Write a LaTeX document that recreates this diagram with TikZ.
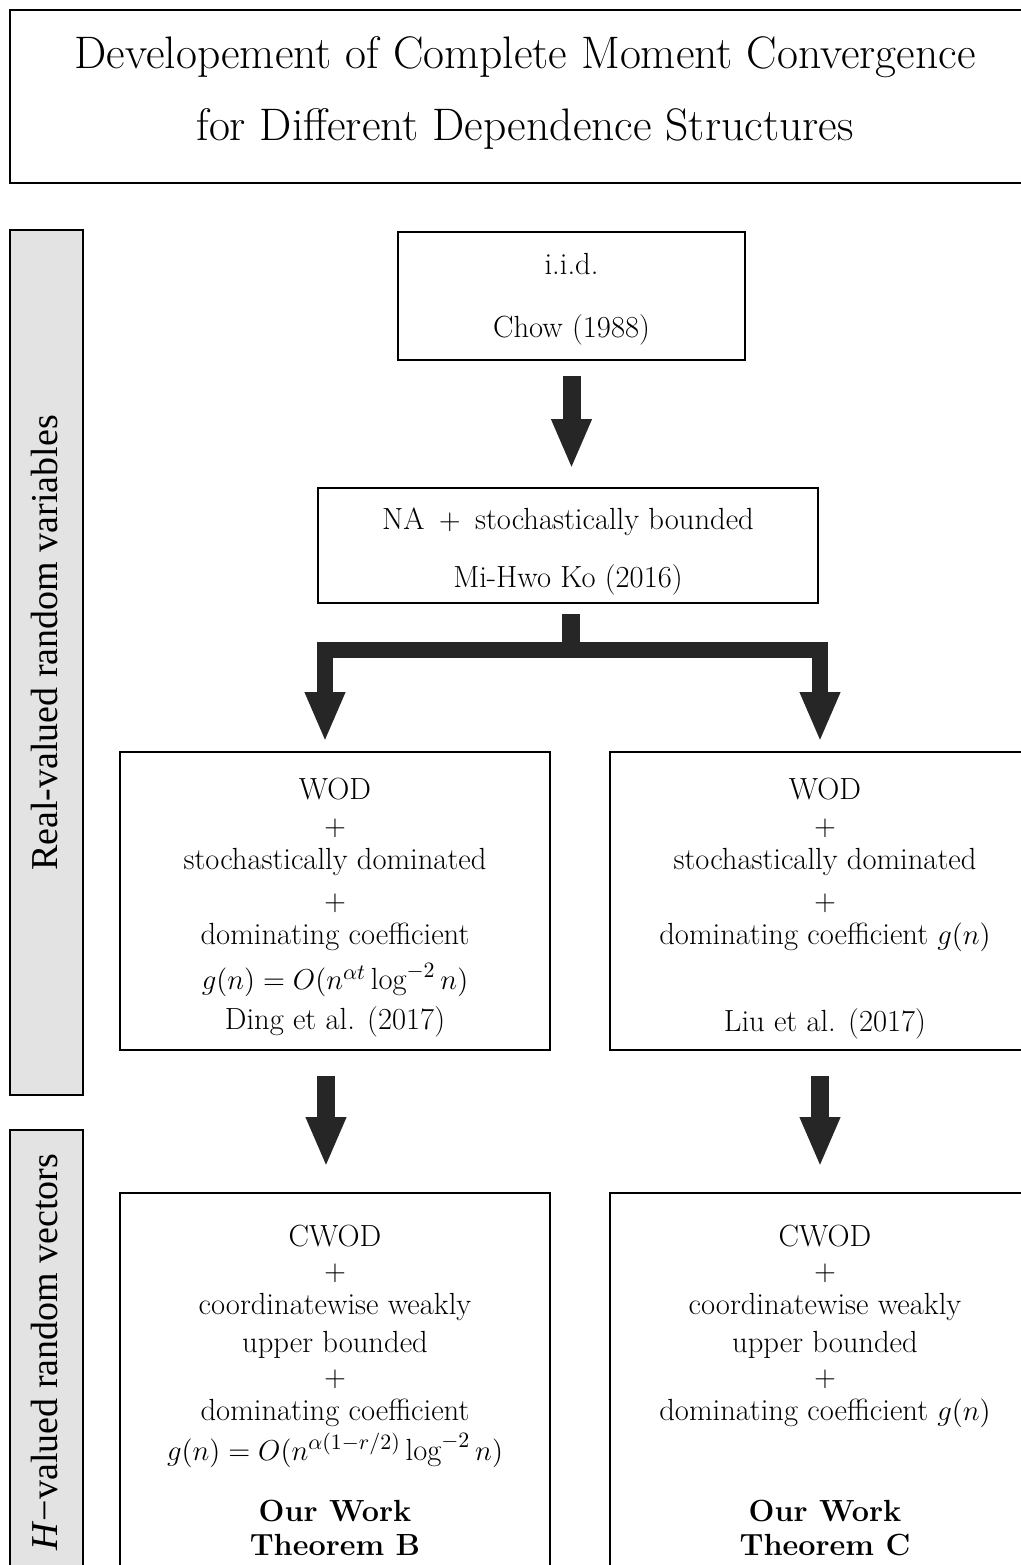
\documentclass[tikz,border=0pt]{standalone}
\usepackage{fontspec}
\newfontfamily\timesfont{Liberation Serif}[Ligatures=TeX]
\usetikzlibrary{arrows.meta}

\begin{document}
\begin{tikzpicture}[x=0.5pt,y=-0.5pt,
  frame/.style={draw,line width=1pt,inner sep=0pt},
  txt/.style={inner sep=0pt,align=center,font=\fontsize{15.3}{17}\selectfont},
  sidebox/.style={draw,line width=1pt,fill=black!11,inner sep=0pt},
  sidelabel/.style={rotate=90,inner sep=0pt,font=\fontsize{19}{19}\timesfont},
  tip/.tip={Triangle[length=25pt,width=18.5pt]},
  fat/.style={line width=9pt,draw=black!85,-tip}]
\useasboundingbox (0,0) rectangle (1021,1565);

% title
\node[frame,minimum width=515pt,minimum height=86.5pt] (title) at (525,96.5) {};
\node[txt,font=\fontsize{22.8}{36}\selectfont,yshift=2pt] (titletxt) at (title)
  {Developement of Complete Moment Convergence\\for Different Dependence Structures};

% side bands
\node[sidebox,minimum width=36.5pt,minimum height=432.5pt] (realbox) at (46.5,662.5) {};
\node[sidelabel] (reallab) at (45,643) {Real-valued random variables};
\node[sidebox,minimum width=36.5pt,minimum height=235pt] (hbox) at (46.5,1365) {};
\node[sidelabel] (hlab) at (45,1352) {\textit{H}−valued random vectors};

% boxes
\node[frame,minimum width=173.5pt,minimum height=64pt] (iid) at (571.5,296) {};
\node[txt,yshift=-1.5pt] (iidtxt) at (iid) {i.i.d.\\[14.5pt]Chow (1988)};

\node[frame,minimum width=250pt,minimum height=57.5pt] (na) at (568,545.5) {};
\node[txt,yshift=-3pt] (natxt) at (na)
  {NA \,$+$\, stochastically bounded\\[12pt]Mi-Hwo Ko (2016)};

\node[frame,minimum width=215pt,minimum height=149pt] (wodL) at (335,901) {};
\node[txt,yshift=-3.5pt] (wodLtxt) at (wodL)
  {WOD\\[1pt]$+$\\stochastically dominated\\[3.5pt]$+$\\dominating coefficient\\[5.5pt]
   $g(n)=O(n^{\alpha t}\log^{-2}n)$\\[3pt]Ding et al. (2017)};

\node[frame,minimum width=215pt,minimum height=149pt] (wodR) at (825,901) {};
\node[txt,yshift=-4pt] (wodRtxt) at (wodR)
  {WOD\\[1pt]$+$\\stochastically dominated\\[3.5pt]$+$\\dominating coefficient $g(n)$\\[26.5pt]
   Liu et al. (2017)};

\node[frame,minimum width=215pt,minimum height=197pt] (cwodL) at (335,1390) {};
\node[txt] (cwodLtxt) at (cwodL)
  {CWOD\\$+$\\coordinatewise weakly\\[2pt]upper bounded\\$+$\\dominating coefficient\\[3pt]
   $g(n)=O(n^{\alpha(1-r/2)}\log^{-2}n)$\\[13.5pt]\textbf{Our Work}\\\textbf{Theorem B}};

\node[frame,minimum width=215pt,minimum height=197pt] (cwodR) at (825,1390) {};
\node[txt] (cwodRtxt) at (cwodR)
  {CWOD\\$+$\\coordinatewise weakly\\[2pt]upper bounded\\$+$\\dominating coefficient $g(n)$\\[33.5pt]
   \textbf{Our Work}\\\textbf{Theorem C}};

% arrows
\coordinate (split) at (571,649.5);
\draw[fat] ([yshift=-7.5pt]iid.south) -- ([yshift=9pt]iid.south |- na.north);
\draw[fat,-] (split |- na.south) ++(0,10) -- (split);
\draw[fat,line width=8pt,tip-tip] ([shift={(-5pt,4.5pt)}]wodL.north) |- (split)
  -| ([shift={(-2.5pt,4.5pt)}]wodR.north);
\draw[fat] ([shift={(-4.5pt,-12.5pt)}]wodL.south) -- ([shift={(-4.5pt,12.5pt)}]cwodL.north);
\draw[fat] ([shift={(-2.5pt,-12.5pt)}]wodR.south) -- ([shift={(-2.5pt,12.5pt)}]cwodR.north);
\end{tikzpicture}
\end{document}
